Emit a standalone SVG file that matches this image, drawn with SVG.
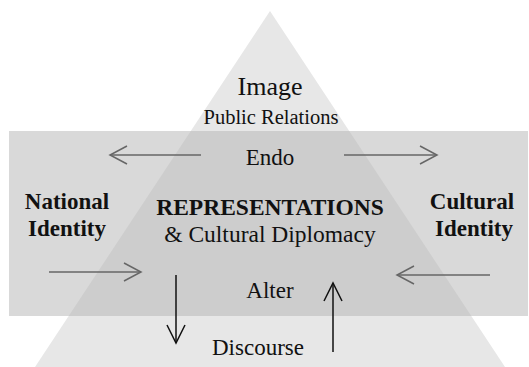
<svg xmlns="http://www.w3.org/2000/svg" width="529" height="367" viewBox="0 0 529 367">
<style>
.t{font-family:"Liberation Serif","Times New Roman",serif;fill:#111;text-anchor:middle}
.b{font-weight:bold}
.g{stroke:#666;stroke-width:1.5;fill:none}
.k{stroke:#111;stroke-width:1.5;fill:none}
</style>
<defs>
<marker id="ag" markerUnits="userSpaceOnUse" orient="auto" overflow="visible" markerWidth="1" markerHeight="1"><path d="M-17,-9 L0,0 L-17,9" fill="none" stroke="#666" stroke-width="1.5"/></marker>
<marker id="ak" markerUnits="userSpaceOnUse" orient="auto" overflow="visible" markerWidth="1" markerHeight="1"><path d="M-18,-9 L0,0 L-18,9" fill="none" stroke="#111" stroke-width="1.5"/></marker>
</defs>
<g id="background">
<polygon points="270,11 35,367 505,367" fill="#e7e7e7"/>
<rect x="9" y="131" width="519" height="185" fill="#d9d9d9"/>
<polygon points="190.8,131 349.2,131 471.3,316 68.7,316" fill="#cdcdcd"/>
</g>
<g id="image"><text class="t" x="270" y="95" font-size="26">Image</text>
<text class="t" x="271" y="124" font-size="20.5">Public Relations</text></g>
<g id="endo"><text class="t" x="270" y="165" font-size="23">Endo</text></g>
<g id="national"><text class="t b" x="67" y="209" font-size="23">National</text>
<text class="t b" x="67" y="236" font-size="23">Identity</text></g>
<g id="cultural"><text class="t b" x="472" y="209" font-size="23">Cultural</text>
<text class="t b" x="474" y="236" font-size="23">Identity</text></g>
<g id="representations"><text class="t b" x="270" y="215" font-size="23.5">REPRESENTATIONS</text>
<text class="t" x="270" y="242" font-size="23.5">&amp; Cultural Diplomacy</text></g>
<g id="alter"><text class="t" x="270" y="298" font-size="23">Alter</text></g>
<g id="discourse"><text class="t" x="258" y="355" font-size="23">Discourse</text></g>
<g id="connectors">
<line class="g" x1="201" y1="155" x2="110" y2="155" marker-end="url(#ag)"/>
<line class="g" x1="344" y1="155" x2="437" y2="155" marker-end="url(#ag)"/>
<line class="g" x1="49" y1="272" x2="141" y2="272" marker-end="url(#ag)"/>
<line class="g" x1="490" y1="275" x2="397" y2="275" marker-end="url(#ag)"/>
<line class="k" x1="176" y1="275" x2="176" y2="343" marker-end="url(#ak)"/>
<line class="k" x1="333" y1="352" x2="333" y2="283" marker-end="url(#ak)"/>
</g>
</svg>
